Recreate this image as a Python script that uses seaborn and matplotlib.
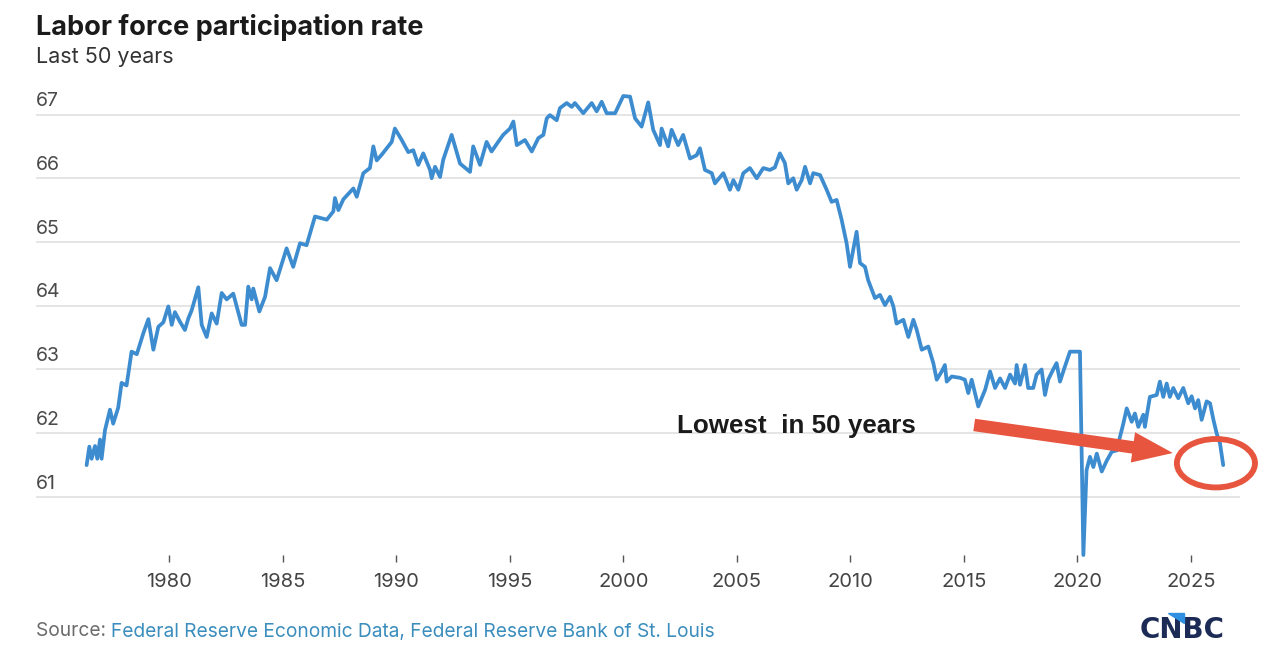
import matplotlib
matplotlib.use("Agg")
import matplotlib.pyplot as plt
import seaborn as sns
import pandas as pd
from matplotlib.patches import Ellipse, FancyArrowPatch, Polygon

# ---- data ----
years = [
    1976.35, 1976.47, 1976.57, 1976.72, 1976.82, 1976.94, 1977.01, 1977.16, 1977.38, 1977.52,
    1977.74, 1977.89, 1978.11, 1978.33, 1978.56, 1978.85, 1979.07, 1979.29, 1979.51, 1979.73,
    1979.95, 1980.10, 1980.24, 1980.46, 1980.68, 1980.83, 1980.98, 1981.27, 1981.42, 1981.64,
    1981.86, 1982.08, 1982.30, 1982.52, 1982.81, 1983.18, 1983.33, 1983.47, 1983.62, 1983.69,
    1983.96, 1984.21, 1984.43, 1984.72, 1985.16, 1985.45, 1985.75, 1986.04, 1986.41, 1986.93,
    1987.22, 1987.29, 1987.44, 1987.66, 1988.10, 1988.25, 1988.54, 1988.83, 1988.98, 1989.13,
    1989.35, 1989.64, 1989.79, 1989.93, 1990.23, 1990.52, 1990.74, 1990.96, 1991.18, 1991.48,
    1991.55, 1991.70, 1991.92, 1992.06, 1992.43, 1992.80, 1993.24, 1993.38, 1993.68, 1993.97,
    1994.19, 1994.48, 1994.70, 1995.00, 1995.15, 1995.30, 1995.66, 1995.96, 1996.25, 1996.47,
    1996.62, 1996.76, 1997.06, 1997.20, 1997.50, 1997.72, 1997.86, 1998.23, 1998.60, 1998.82,
    1999.04, 1999.26, 1999.63, 1999.99, 2000.29, 2000.51, 2000.80, 2001.09, 2001.31, 2001.61,
    2001.68, 2001.97, 2002.12, 2002.41, 2002.63, 2002.93, 2003.22, 2003.37, 2003.59, 2003.89,
    2004.03, 2004.40, 2004.69, 2004.84, 2005.06, 2005.28, 2005.57, 2005.87, 2006.16, 2006.45,
    2006.67, 2006.89, 2007.11, 2007.26, 2007.48, 2007.63, 2007.85, 2008.00, 2008.22, 2008.36,
    2008.66, 2008.95, 2009.17, 2009.39, 2009.61, 2009.83, 2009.98, 2010.27, 2010.42, 2010.64,
    2010.78, 2011.08, 2011.30, 2011.52, 2011.74, 2011.89, 2012.03, 2012.33, 2012.55, 2012.77,
    2012.92, 2013.14, 2013.43, 2013.65, 2013.80, 2014.02, 2014.16, 2014.24, 2014.46, 2014.82,
    2015.04, 2015.19, 2015.34, 2015.63, 2015.93, 2016.15, 2016.37, 2016.59, 2016.81, 2017.03,
    2017.25, 2017.32, 2017.47, 2017.69, 2017.83, 2018.05, 2018.20, 2018.42, 2018.57, 2018.71,
    2018.93, 2019.08, 2019.23, 2019.45, 2019.67, 2020.11, 2020.26, 2020.40, 2020.55, 2020.70,
    2020.85, 2021.07, 2021.29, 2021.51, 2021.73, 2021.87, 2022.02, 2022.17, 2022.39, 2022.53,
    2022.68, 2022.90, 2022.97, 2023.19, 2023.49, 2023.63, 2023.78, 2023.93, 2024.07, 2024.22,
    2024.44, 2024.66, 2024.88, 2025.03, 2025.18, 2025.32, 2025.47, 2025.69, 2025.84, 2025.99,
    2026.13, 2026.28, 2026.42,
]
rates = [
    61.50, 61.79, 61.60, 61.80, 61.60, 61.90, 61.60, 62.05, 62.37, 62.15,
    62.40, 62.79, 62.75, 63.28, 63.24, 63.57, 63.79, 63.31, 63.67, 63.74,
    63.99, 63.70, 63.90, 63.75, 63.62, 63.80, 63.93, 64.29, 63.70, 63.51,
    63.88, 63.72, 64.20, 64.10, 64.19, 63.70, 63.70, 64.30, 64.10, 64.27,
    63.91, 64.14, 64.59, 64.40, 64.90, 64.61, 64.98, 64.95, 65.40, 65.35,
    65.48, 65.69, 65.50, 65.67, 65.84, 65.71, 66.08, 66.16, 66.50, 66.28,
    66.37, 66.50, 66.57, 66.78, 66.60, 66.41, 66.44, 66.21, 66.39, 66.13,
    66.00, 66.18, 66.02, 66.29, 66.68, 66.23, 66.10, 66.50, 66.21, 66.57,
    66.42, 66.57, 66.68, 66.78, 66.89, 66.52, 66.60, 66.42, 66.63, 66.68,
    66.94, 66.99, 66.91, 67.10, 67.18, 67.12, 67.18, 67.02, 67.18, 67.05,
    67.20, 67.02, 67.02, 67.29, 67.28, 66.94, 66.81, 67.19, 66.76, 66.52,
    66.78, 66.50, 66.76, 66.52, 66.68, 66.31, 66.36, 66.47, 66.13, 66.08,
    65.92, 66.08, 65.82, 65.97, 65.82, 66.08, 66.16, 66.00, 66.16, 66.13,
    66.17, 66.39, 66.24, 65.92, 66.00, 65.82, 65.97, 66.18, 65.92, 66.08,
    66.05, 65.82, 65.63, 65.66, 65.35, 64.98, 64.61, 65.16, 64.67, 64.61,
    64.40, 64.12, 64.17, 64.01, 64.14, 63.99, 63.72, 63.78, 63.51, 63.78,
    63.62, 63.31, 63.36, 63.10, 62.84, 62.97, 63.07, 62.81, 62.89, 62.87,
    62.84, 62.63, 62.84, 62.42, 62.68, 62.97, 62.71, 62.86, 62.71, 62.92,
    62.78, 63.07, 62.76, 63.07, 62.71, 62.71, 62.92, 63.00, 62.60, 62.84,
    63.00, 63.10, 62.81, 63.05, 63.28, 63.28, 60.09, 61.42, 61.63, 61.47,
    61.68, 61.40, 61.57, 61.71, 61.73, 61.94, 62.15, 62.39, 62.18, 62.31,
    62.10, 62.29, 62.10, 62.57, 62.60, 62.81, 62.57, 62.78, 62.57, 62.71,
    62.55, 62.71, 62.47, 62.58, 62.39, 62.52, 62.21, 62.50, 62.47, 62.21,
    62.00, 61.84, 61.50,
]
x_ticks = [1980, 1985, 1990, 1995, 2000, 2005, 2010, 2015, 2020, 2025]
y_ticks = [61, 62, 63, 64, 65, 66, 67]

title = "Labor force participation rate"
subtitle = "Last 50 years"
note = "Lowest  in 50 years"
source_label = "Source:"
source_text = "Federal Reserve Economic Data, Federal Reserve Bank of St. Louis"

df = pd.DataFrame({"year": years, "rate": rates})

sns.set_theme(style="white")
plt.rcParams["font.family"] = ["Inter", "DejaVu Sans"]

W, H = 1280, 654
fig = plt.figure(figsize=(W / 100, H / 100), dpi=100)
fig.patch.set_facecolor("white")

# axes area in pixel space: x 36..1240, y 95..555 (from top)
ax = fig.add_axes([36 / W, 1 - 555 / H, (1240 - 36) / W, (555 - 95) / H])
ax.set_facecolor("white")

line_color = "#3d8ccf"
sns.lineplot(data=df, x="year", y="rate", ax=ax, color=line_color, linewidth=2.7,
             sort=False, estimator=None, clip_on=False, zorder=3)

ax.set_xlim(1974.12, 2027.16)
ax.set_ylim(60.09, 67.306)

for s in ax.spines.values():
    s.set_visible(False)

# gridlines
ax.set_yticks(y_ticks)
ax.yaxis.grid(True, color="#dedede", linewidth=1.1)
ax.xaxis.grid(False)
ax.tick_params(axis="y", length=0, labelleft=False)
for v in y_ticks:
    ax.annotate(str(v), xy=(0, v), xycoords=ax.get_yaxis_transform(),
                xytext=(0, 3.2), textcoords="offset points",
                ha="left", va="bottom", fontsize=14, color="#4a4a4a")

ax.set_xticks(x_ticks)
ax.set_xticklabels([str(t) for t in x_ticks])
ax.tick_params(axis="x", direction="out", length=5, width=1.0, color="#555555",
               pad=8, labelsize=14.5, labelcolor="#444444", bottom=True)
ax.set_xlabel("")
ax.set_ylabel("")

# annotation text
ax.text(2002.36, 62.0, note, fontsize=18.7, fontweight="bold", color="#1a1a1a",
        family=["Liberation Sans", "DejaVu Sans"], ha="left", va="baseline", zorder=5)

red = "#e8553f"
arrow = FancyArrowPatch((2015.45, 62.13), (2024.2, 61.69),
                        arrowstyle="simple,head_length=29,head_width=22,tail_width=9",
                        mutation_scale=1, color=red, zorder=4, linewidth=0,
                        shrinkA=0, shrinkB=0, capstyle="round", clip_on=False)
ax.add_patch(arrow)

ell = Ellipse((2026.10, 61.53), width=3.44, height=0.76, fill=False,
              edgecolor=red, linewidth=4.2, zorder=4, clip_on=False)
ax.add_patch(ell)

# titles
fig.text(36 / W, 1 - 35 / H, title, fontsize=19.5, fontweight="bold", color="#1a1a1a",
         ha="left", va="baseline")
fig.text(36 / W, 1 - 63 / H, subtitle, fontsize=15.5, color="#333333",
         ha="left", va="baseline")

# source line
t1 = fig.text(36 / W, 1 - 636.5 / H, source_label + " ", fontsize=13.8, color="#6b6b6b",
              ha="left", va="baseline")
fig.canvas.draw()
bb = t1.get_window_extent(renderer=fig.canvas.get_renderer())
fig.text(bb.x1 / W, 1 - 636.5 / H, source_text, fontsize=13.8, color="#3a8dbd",
         ha="left", va="baseline")

# CNBC logo text
fig.text(1140 / W, 1 - 638 / H, "CNBC", fontsize=20, fontweight="bold",
         color="#1b2b55", ha="left", va="baseline",
         family=["DejaVu Sans"])
tri = Polygon([[1168 / W, 1 - 613 / H], [1184 / W, 1 - 613 / H], [1184 / W, 1 - 623 / H]],
              closed=True, transform=fig.transFigure, color="#2f8fe0", zorder=6)
fig.patches.append(tri)

fig.savefig("out.png", dpi=100, facecolor="white")
